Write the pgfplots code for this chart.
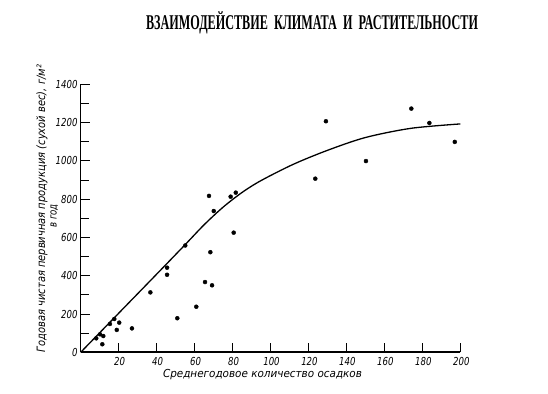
\documentclass[border=0pt]{standalone}
\usepackage{pgfplots}
\pgfplotsset{compat=1.18}
\usepackage{fontspec}
\usepackage{graphicx}
\setmainfont{DejaVu Sans}
\newfontfamily\titlefont{Liberation Serif}
\newfontfamily\tickfont{DejaVu Sans}[FakeStretch=0.78]
\newfontfamily\lblfont{DejaVu Sans}
\begin{document}
\begin{tikzpicture}[x=1pt,y=1pt]
\path[use as bounding box] (-80.7,-40.7) rectangle (467.3,352.3);
\begin{axis}[
  at={(0,0)}, anchor=south west,
  scale only axis, width=379.6pt, height=268pt,
  xmin=0, xmax=200, ymin=0, ymax=1400,
  axis lines=left,
  axis line style={-, line width=1.6pt, black},
  clip=false,
  xtick={20,40,...,200},
  ytick={0,200,...,1400},
  minor y tick num=1,
  tick align=inside,
  major tick length=9pt, minor tick length=8pt,
  every tick/.style={black, line width=1pt},
  /pgf/number format/assume math mode=true,
  /pgf/number format/1000 sep={},
  ticklabel style={font=\tickfont\itshape\fontsize{11}{12}\selectfont},
  xticklabel style={anchor=north, inner sep=0pt, yshift=-5pt, xshift=1pt},
  yticklabel style={anchor=east, inner sep=0pt, xshift=-3pt},
]
\addplot[black, line width=1.3pt, smooth, no markers] coordinates {
(0,0) (20,204) (40,408) (55,562) (65,666) (75,758) (85,835) (95,897) (112,982) (130,1055) (150,1122) (174,1170) (200,1193)
};
\addplot[only marks, mark=*, mark size=2pt, black] coordinates {
(8.2,73) (10.2,94) (11.9,85) (11.4,42) (15.4,148) (17.7,174) (19.0,117) (20.3,155) (27.0,125)
(36.7,313) (45.5,442) (45.5,405) (55.1,558) (50.9,178) (60.9,238) (65.5,367) (69.2,350) (68.3,523)
(80.6,625) (67.6,817) (70.1,738) (79.0,813) (81.7,834) (123.6,907) (129.2,1207) (150.3,999)
(174.2,1273) (183.7,1198) (197.1,1099)
};
\end{axis}
\node[anchor=base, inner sep=0pt] at (231.3,322.3)
  {\resizebox{332pt}{\height}{\fontsize{21}{22}\titlefont\bfseries ВЗАИМОДЕЙСТВИЕ\ \ КЛИМАТА\ \ И\ \ РАСТИТЕЛЬНОСТИ}};
\node[anchor=base, inner sep=0pt] at (181.8,-24.7)
  {\resizebox{199pt}{\height}{\fontsize{11}{12}\lblfont\itshape Среднегодовое количество осадков}};
\node[rotate=90, anchor=center, inner sep=0pt] at (-38.7,143.8)
  {\resizebox{287pt}{\height}{\fontsize{11.5}{12}\lblfont\itshape Годовая чистая первичная продукция (сухой вес), г/м²}};
\node[rotate=90, anchor=center, inner sep=0pt] at (-26.5,136.3)
  {\fontsize{11}{12}\tickfont\itshape в год};
\end{tikzpicture}
\end{document}
